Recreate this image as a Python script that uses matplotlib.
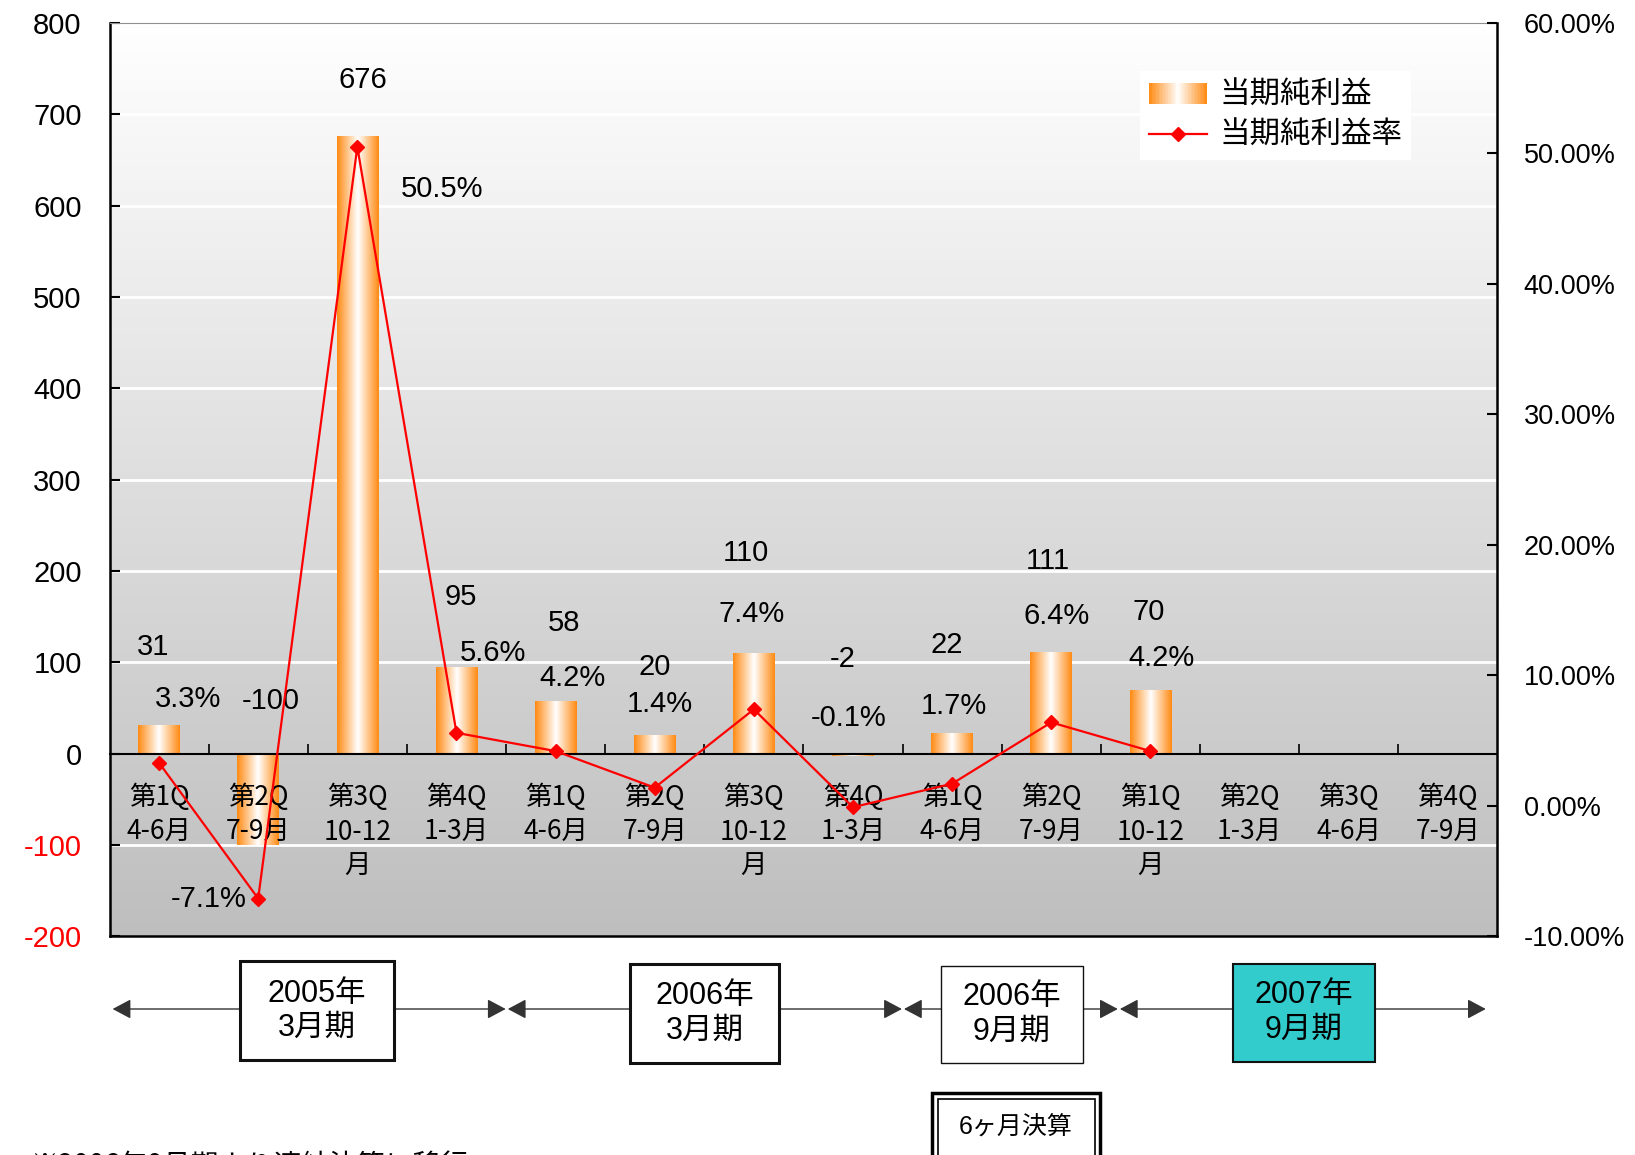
import numpy as np
import matplotlib
matplotlib.use('Agg')
import matplotlib.pyplot as plt
from matplotlib.colors import LinearSegmentedColormap
from matplotlib.patches import Rectangle, FancyArrowPatch
from matplotlib.lines import Line2D
from matplotlib.legend_handler import HandlerBase

plt.rcParams['font.family'] = ['Liberation Sans', 'Noto Sans CJK JP', 'DejaVu Sans']

# data
quarters = ['第1Q\n4-6月', '第2Q\n7-9月', '第3Q\n10-12\n月', '第4Q\n1-3月',
            '第1Q\n4-6月', '第2Q\n7-9月', '第3Q\n10-12\n月', '第4Q\n1-3月',
            '第1Q\n4-6月', '第2Q\n7-9月',
            '第1Q\n10-12\n月', '第2Q\n1-3月', '第3Q\n4-6月', '第4Q\n7-9月']
net_income = [31, -100, 676, 95, 58, 20, 110, -2, 22, 111, 70, np.nan, np.nan, np.nan]
net_margin = [3.3, -7.1, 50.5, 5.6, 4.2, 1.4, 7.4, -0.1, 1.7, 6.4, 4.2, np.nan, np.nan, np.nan]
left_ticks = list(range(-200, 801, 100))
right_ticks = list(range(-10, 61, 10))
periods = ['2005年\n3月期', '2006年\n3月期', '2006年\n9月期', '2007年\n9月期']
note_box = '6ヶ月決算'
footnote = '※2006年9月期より連結決算に移行'

# label offsets in reference pixels (x right, y down)
val_off = [(-6, -75), (12, -51), (5, -54), (4, -67), (8, -75), (0, -66),
           (-8, -96), (-10, -91), (-5, -85), (-3, -88), (-2, -75)]
rate_off = [(28, -61), (-47, 0), (81, 40), (35, -77), (16, -70), (5, -80),
            (-2, -91), (-4, -86), (2, -75), (5, -102), (11, -89)]
S = 1635 / 1568

W, H = 1635, 1155
fig = plt.figure(figsize=(W / 100, H / 100), dpi=100)


def fx(x):
    return x / W


def fy(y):
    return 1 - y / H


ax = fig.add_axes([fx(109.5), fy(936.4), fx(1497.3) - fx(109.5), fy(22.9) - fy(936.4)])
ax2 = ax.twinx()

bar_cmap = LinearSegmentedColormap.from_list('bar', ['#FF8A12', '#FFFFFF', '#FF8A12'])
bg_cmap = LinearSegmentedColormap.from_list('bg', ['#FFFFFF', '#BEBEBE'])

ax.imshow(np.linspace(0, 1, 256).reshape(-1, 1), cmap=bg_cmap, extent=(0, 1, 0, 1),
          transform=ax.transAxes, aspect='auto', zorder=0)

for y in left_ticks[1:-1]:
    if y != 0:
        ax.axhline(y, color='white', lw=2, zorder=1)

x = np.arange(len(quarters))
bw = 0.42
grad = np.linspace(0, 1, 256).reshape(1, -1)
for xi, v in zip(x, net_income):
    if np.isnan(v):
        continue
    ax.imshow(grad, cmap=bar_cmap, extent=(xi - bw / 2, xi + bw / 2, min(v, 0), max(v, 0)),
              aspect='auto', zorder=2, interpolation='bilinear')

ax.set_xlim(-0.5, len(quarters) - 0.5)
ax.set_ylim(left_ticks[0], left_ticks[-1])
ax.set_yticks(left_ticks, labels=[str(t) for t in left_ticks], fontsize=21)
for t, lbl in zip(left_ticks, ax.get_yticklabels()):
    if t < 0:
        lbl.set_color('red')
ax.tick_params(axis='y', direction='in', length=7, width=1.5, pad=20)
ax.set_xticks(x[:-1] + 0.5)
ax.tick_params(axis='x', direction='in', length=7, width=1.2, labelbottom=False)
ax.spines['bottom'].set_position(('data', 0))
ax.spines['bottom'].set_linewidth(1.5)
ax.spines['left'].set_linewidth(1.8)
ax.spines['top'].set_color('#909090')
ax.spines['right'].set_visible(False)

for xi, lab in zip(x, quarters):
    ax.annotate(lab, xy=(xi, 0), xytext=(0, -30), textcoords='offset pixels',
                ha='center', va='top', fontsize=19, linespacing=1.36,
                family=['Noto Sans CJK JP'], zorder=4)

# value labels
for xi, v, (dx, dy) in zip(x, net_income, val_off):
    ax.annotate(f'{v:.0f}', xy=(xi, max(v, 0)), xytext=(dx * S, -dy * S),
                textcoords='offset pixels', ha='center', va='center', fontsize=21, zorder=5)

# margin line
ax2.plot(x, net_margin, color='red', lw=1.6, marker='D', markersize=7, zorder=3)
ax2.set_ylim(right_ticks[0], right_ticks[-1])
ax2.set_yticks(right_ticks, labels=[f'{t:.2f}%' for t in right_ticks], fontsize=19.5)
ax2.tick_params(axis='y', direction='in', length=7, width=1.5, pad=19)
ax2.spines['right'].set_linewidth(1.8)
ax2.spines['bottom'].set_linewidth(1.8)
ax2.spines['left'].set_visible(False)
ax2.spines['top'].set_visible(False)

for xi, r, (dx, dy) in zip(x, net_margin, rate_off):
    ax2.annotate(f'{r:.1f}%', xy=(xi, r), xytext=(dx * S, -dy * S),
                 textcoords='offset pixels', ha='center', va='center', fontsize=21, zorder=5)


# legend
class GradientHandler(HandlerBase):
    def create_artists(self, legend, orig_handle, xdescent, ydescent, width, height,
                       fontsize, trans):
        n = 40
        arts = []
        for i in range(n):
            arts.append(Rectangle((-xdescent + width * i / n, -ydescent), width / n * 1.1, height,
                                  facecolor=bar_cmap((i + 0.5) / n), edgecolor='none',
                                  transform=trans))
        return arts


bar_proxy = Rectangle((0, 0), 1, 1)
line_proxy = Line2D([], [], color='red', lw=1.6, marker='D', markersize=7)
leg = ax2.legend([bar_proxy, line_proxy], ['当期純利益', '当期純利益率'],
                 handler_map={bar_proxy: GradientHandler()},
                 loc='upper left', bbox_to_anchor=(fx(1139.7), fy(70.9)),
                 bbox_transform=fig.transFigure, borderaxespad=0,
                 prop={'family': ['Noto Sans CJK JP'], 'size': 22},
                 frameon=True, fancybox=False, edgecolor='none', facecolor='white',
                 framealpha=1, numpoints=1, handlelength=1.9, handleheight=0.7,
                 handletextpad=0.4, labelspacing=0.3, borderpad=0.3)

# period arrows and boxes
arrow_y = 1009
segments = [(112.6, 505.7), (507.8, 901.9), (904.0, 1117.8), (1119.9, 1485.8)]
boxes = [(239.8, 394.1, 961.4, 1060.4), (629.8, 778.9, 963.5, 1062.5),
         (940.5, 1083.4, 965.5, 1062.5), (1232.5, 1375.3, 963.5, 1061.5)]
box_face = ['white', 'white', 'white', '#33CCCC']
box_lw = [2.2, 2.2, 1.0, 1.5]

for x0, x1 in segments:
    fig.add_artist(FancyArrowPatch((fx(x0), fy(arrow_y)), (fx(x1), fy(arrow_y)),
                                   transform=fig.transFigure,
                                   arrowstyle='<|-|>,head_length=0.75,head_width=0.4',
                                   mutation_scale=15, color='#333333', lw=1,
                                   shrinkA=0, shrinkB=0))

for (x0, x1, y0, y1), fc, lw, lab in zip(boxes, box_face, box_lw, periods):
    fig.add_artist(Rectangle((fx(x0), fy(y1)), fx(x1) - fx(x0), fy(y0) - fy(y1),
                             transform=fig.transFigure, facecolor=fc, edgecolor='#111111',
                             lw=lw, zorder=3))
    fig.text(fx((x0 + x1) / 2), fy((y0 + y1) / 2), lab, ha='center', va='center',
             fontsize=22, linespacing=1.2, zorder=4)

fig.add_artist(Rectangle((fx(932), fy(1165)), fx(1100) - fx(932), fy(1093) - fy(1165),
                         transform=fig.transFigure, facecolor='white', edgecolor='black',
                         lw=2.5, zorder=3))
fig.add_artist(Rectangle((fx(937.5), fy(1165)), fx(1094.5) - fx(937.5), fy(1099) - fy(1165),
                         transform=fig.transFigure, facecolor='white', edgecolor='black',
                         lw=1.2, zorder=3))
fig.text(fx(1016), fy(1128), note_box, ha='center', va='center', fontsize=18,
         family=['Liberation Sans', 'Noto Sans CJK JP'], zorder=4)

fig.text(fx(30), fy(1152), footnote, ha='left', va='top', fontsize=20,
         family=['Noto Sans CJK JP'])

fig.savefig('out.png', dpi=100)
